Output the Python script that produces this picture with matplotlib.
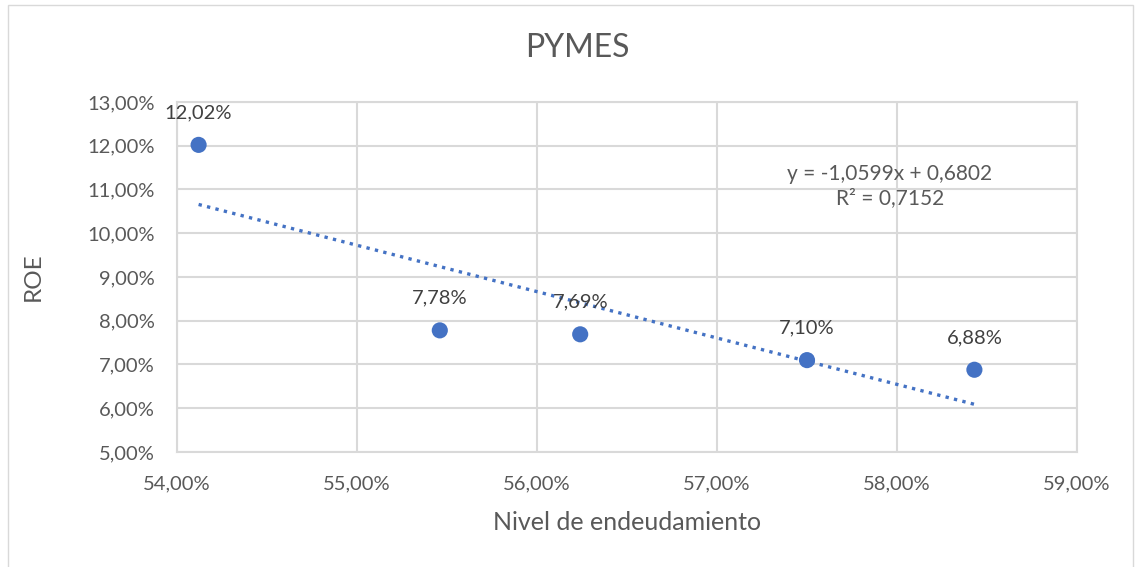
import matplotlib
matplotlib.use("Agg")
import matplotlib.pyplot as plt
from matplotlib.ticker import FuncFormatter, MultipleLocator
from matplotlib.patches import Rectangle
import numpy as np

plt.rcParams['font.family'] = ['Lato', 'DejaVu Sans']

# Data
endeudamiento = [0.5412, 0.5546, 0.5624, 0.5750, 0.5843]
roe = [0.1202, 0.0778, 0.0769, 0.0710, 0.0688]
labels = ["12,02%", "7,78%", "7,69%", "7,10%", "6,88%"]
trend_slope = -1.0599
trend_intercept = 0.6802
trend_text = "y = -1,0599x + 0,6802\nR² = 0,7152"
title = "PYMES"
xlabel = "Nivel de endeudamiento"
ylabel = "ROE"

blue = "#4472C4"
grid_c = "#D9D9D9"
tick_c = "#595959"

fig = plt.figure(figsize=(11.39, 5.67), dpi=100)
fig.patches.append(Rectangle((8/1139, -0.1), (1133-8)/1139, 1.1 - 5/567,
                             transform=fig.transFigure, fill=False,
                             edgecolor="#D9D9D9", linewidth=1.0))
ax = fig.add_axes([177/1139, 1-452/567, 900/1139, 350/567])

ax.set_xlim(0.54, 0.59)
ax.set_ylim(0.05, 0.13)
ax.xaxis.set_major_locator(MultipleLocator(0.01))
ax.yaxis.set_major_locator(MultipleLocator(0.01))
fmt = FuncFormatter(lambda v, p: f"{v*100:.2f}".replace(".", ",") + "%")
ax.xaxis.set_major_formatter(fmt)
ax.yaxis.set_major_formatter(fmt)
ax.grid(True, color=grid_c, linewidth=1.5)
ax.set_axisbelow(True)
for s in ax.spines.values():
    s.set_color(grid_c)
    s.set_linewidth(1.5)
ax.tick_params(length=0, colors=tick_c, labelsize=14.5)
ax.tick_params(axis='y', pad=16)
ax.tick_params(axis='x', pad=17)

xs = np.array([min(endeudamiento), max(endeudamiento)])
ax.plot(xs, trend_slope*xs + trend_intercept, linestyle=(0, (1, 1.6)),
        color=blue, linewidth=2.4, zorder=2)
ax.scatter(endeudamiento, roe, s=135, color=blue, zorder=3, edgecolors='none')
for x, y, t in zip(endeudamiento, roe, labels):
    ax.annotate(t, (x, y), xytext=(0, 32), textcoords='offset pixels',
                ha='center', va='center', fontsize=14.5, color="#404040")

ax.text(0.5796, 0.1108, trend_text, ha='center', va='center', fontsize=15,
        color="#595959", linespacing=1.25)

fig.text(577/1139, 1-48/567, title, ha='center', va='center', fontsize=23, color="#595959")
fig.text(627/1139, 1-522/567, xlabel, ha='center', va='center', fontsize=18, color="#595959")
fig.text(33/1139, 1-277/567, ylabel, ha='center', va='center', fontsize=17.5, color="#595959", rotation=90)

fig.savefig("out.png", dpi=100)
